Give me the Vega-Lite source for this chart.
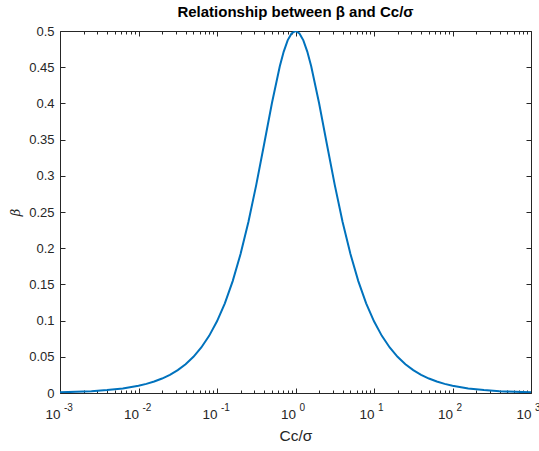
{
  "$schema": "https://vega.github.io/schema/vega-lite/v6.json",
  "width": 471,
  "height": 362,
  "autosize": "none",
  "padding": {"left": 60, "top": 31, "right": 8, "bottom": 58},
  "background": "white",
  "config": {
    "view": {"stroke": null},
    "font": "Liberation Sans",
    "axis": {
      "domainColor": "#262626",
      "tickColor": "#262626",
      "labelColor": "#262626",
      "titleColor": "#262626",
      "labelFont": "Liberation Sans",
      "titleFont": "Liberation Sans",
      "labelFontSize": 12,
      "grid": false,
      "domainWidth": 1,
      "tickWidth": 1
    }
  },
  "title": {
    "text": "Relationship between β and Cc/σ",
    "font": "Liberation Sans",
    "fontSize": 15,
    "fontWeight": "bold",
    "color": "#000000",
    "anchor": "middle",
    "offset": 5
  },
  "datasets": {
    "curve": [
      {"x": 0.001, "beta": 0.001},
      {"x": 0.001585, "beta": 0.001585},
      {"x": 0.002512, "beta": 0.002512},
      {"x": 0.003981, "beta": 0.003981},
      {"x": 0.00631, "beta": 0.00631},
      {"x": 0.01, "beta": 0.0099},
      {"x": 0.012589, "beta": 0.01259},
      {"x": 0.015849, "beta": 0.01585},
      {"x": 0.019953, "beta": 0.01995},
      {"x": 0.025119, "beta": 0.0251},
      {"x": 0.031623, "beta": 0.03159},
      {"x": 0.039811, "beta": 0.03975},
      {"x": 0.050119, "beta": 0.04999},
      {"x": 0.063096, "beta": 0.06285},
      {"x": 0.079433, "beta": 0.07893},
      {"x": 0.1, "beta": 0.09901},
      {"x": 0.125893, "beta": 0.12393},
      {"x": 0.158489, "beta": 0.1546},
      {"x": 0.199526, "beta": 0.19189},
      {"x": 0.251189, "beta": 0.23628},
      {"x": 0.316228, "beta": 0.28748},
      {"x": 0.398107, "beta": 0.34364},
      {"x": 0.501187, "beta": 0.40056},
      {"x": 0.630957, "beta": 0.45129},
      {"x": 0.707946, "beta": 0.47161},
      {"x": 0.794328, "beta": 0.48704},
      {"x": 0.891251, "beta": 0.4967},
      {"x": 1, "beta": 0.5},
      {"x": 1.122018, "beta": 0.4967},
      {"x": 1.258925, "beta": 0.48704},
      {"x": 1.412538, "beta": 0.47161},
      {"x": 1.584893, "beta": 0.45129},
      {"x": 1.995262, "beta": 0.40056},
      {"x": 2.511886, "beta": 0.34364},
      {"x": 3.162278, "beta": 0.28748},
      {"x": 3.981072, "beta": 0.23628},
      {"x": 5.011872, "beta": 0.19189},
      {"x": 6.309573, "beta": 0.1546},
      {"x": 7.943282, "beta": 0.12393},
      {"x": 10, "beta": 0.09901},
      {"x": 12.589254, "beta": 0.07893},
      {"x": 15.848932, "beta": 0.06285},
      {"x": 19.952623, "beta": 0.04999},
      {"x": 25.118864, "beta": 0.03975},
      {"x": 31.622777, "beta": 0.03159},
      {"x": 39.810717, "beta": 0.0251},
      {"x": 50.118723, "beta": 0.01995},
      {"x": 63.095734, "beta": 0.01585},
      {"x": 79.432823, "beta": 0.01259},
      {"x": 100, "beta": 0.0099},
      {"x": 158.489, "beta": 0.00631},
      {"x": 251.189, "beta": 0.003981},
      {"x": 398.107, "beta": 0.002512},
      {"x": 630.957, "beta": 0.001585},
      {"x": 1000, "beta": 0.001}
    ],
    "exponents": [
      {"x": 0.001, "exp": "-3"},
      {"x": 0.01, "exp": "-2"},
      {"x": 0.1, "exp": "-1"},
      {"x": 1, "exp": "0"},
      {"x": 10, "exp": "1"},
      {"x": 100, "exp": "2"},
      {"x": 1000, "exp": "3"}
    ]
  },
  "data": {"name": "curve"},
  "resolve": {
    "scale": {"x": "independent", "y": "independent"},
    "axis": {"x": "independent", "y": "independent"}
  },
  "layer": [
    {
      "mark": {"type": "line", "color": "#0072BD", "strokeWidth": 2, "clip": true},
      "encoding": {
        "x": {
          "field": "x", "type": "quantitative",
          "scale": {"type": "log", "domain": [0.001, 1000], "nice": false},
          "axis": {
            "orient": "bottom",
            "values": [0.001, 0.01, 0.1, 1, 10, 100, 1000],
            "labelExpr": "'10'",
            "labelAlign": "right",
            "labelDx": 3,
            "tickSize": -5,
            "labelPadding": 19,
            "labelFontSize": 13.5,
            "title": "Cc/σ",
            "titleFontSize": 15.5,
            "titleFontWeight": "normal",
            "titlePadding": 8,
            "labelFlush": false,
            "labelOverlap": false
          }
        },
        "y": {
          "field": "beta", "type": "quantitative",
          "scale": {"domain": [0, 0.5], "nice": false, "zero": false},
          "axis": {
            "orient": "left",
            "values": [0, 0.05, 0.1, 0.15, 0.2, 0.25, 0.3, 0.35, 0.4, 0.45, 0.5],
            "format": ".2~f",
            "tickSize": -5,
            "labelPadding": 11,
            "labelFontSize": 13,
            "labelFlush": false,
            "labelOverlap": false,
            "title": "β",
            "titleFont": "DejaVu Serif",
            "titleFontStyle": "italic",
            "titleFontWeight": "normal",
            "titleFontSize": 13,
            "titlePadding": 6
          }
        }
      }
    },
    {
      "data": {"name": "exponents"},
      "mark": {"type": "text", "align": "left", "baseline": "top", "dx": 4, "dy": 10, "fontSize": 10, "color": "#262626", "font": "Liberation Sans", "clip": false},
      "encoding": {
        "x": {
          "field": "x", "type": "quantitative",
          "scale": {"type": "log", "domain": [0.001, 1000], "nice": false},
          "axis": null
        },
        "y": {
          "datum": 0, "type": "quantitative",
          "scale": {"domain": [0, 0.5], "nice": false, "zero": false},
          "axis": null
        },
        "text": {"field": "exp"}
      }
    },
    {
      "mark": {"type": "line", "strokeOpacity": 0},
      "encoding": {
        "x": {
          "field": "x", "type": "quantitative",
          "scale": {"type": "log", "domain": [0.001, 1000], "nice": false},
          "axis": {
            "orient": "bottom",
            "values": [0.002,0.003,0.004,0.005,0.006,0.007,0.008,0.009,0.02,0.03,0.04,0.05,0.06,0.07,0.08,0.09,0.2,0.3,0.4,0.5,0.6,0.7,0.8,0.9,2,3,4,5,6,7,8,9,20,30,40,50,60,70,80,90,200,300,400,500,600,700,800,900],
            "tickSize": -3,
            "labels": false,
            "domain": false,
            "title": null
          }
        },
        "y": {
          "field": "beta", "type": "quantitative",
          "scale": {"domain": [0, 0.5], "nice": false, "zero": false},
          "axis": {
            "orient": "right",
            "values": [0, 0.05, 0.1, 0.15, 0.2, 0.25, 0.3, 0.35, 0.4, 0.45, 0.5],
            "tickSize": -5,
            "labels": false,
            "title": null
          }
        }
      }
    },
    {
      "mark": {"type": "line", "strokeOpacity": 0},
      "encoding": {
        "x": {
          "field": "x", "type": "quantitative",
          "scale": {"type": "log", "domain": [0.001, 1000], "nice": false},
          "axis": {
            "orient": "top",
            "values": [0.001, 0.01, 0.1, 1, 10, 100, 1000],
            "tickSize": -5,
            "labels": false,
            "title": null
          }
        },
        "y": {
          "field": "beta", "type": "quantitative",
          "scale": {"domain": [0, 0.5], "nice": false, "zero": false},
          "axis": null
        }
      }
    },
    {
      "mark": {"type": "line", "strokeOpacity": 0},
      "encoding": {
        "x": {
          "field": "x", "type": "quantitative",
          "scale": {"type": "log", "domain": [0.001, 1000], "nice": false},
          "axis": {
            "orient": "top",
            "values": [0.002,0.003,0.004,0.005,0.006,0.007,0.008,0.009,0.02,0.03,0.04,0.05,0.06,0.07,0.08,0.09,0.2,0.3,0.4,0.5,0.6,0.7,0.8,0.9,2,3,4,5,6,7,8,9,20,30,40,50,60,70,80,90,200,300,400,500,600,700,800,900],
            "tickSize": -3,
            "labels": false,
            "domain": false,
            "title": null
          }
        },
        "y": {
          "field": "beta", "type": "quantitative",
          "scale": {"domain": [0, 0.5], "nice": false, "zero": false},
          "axis": null
        }
      }
    }
  ]
}
